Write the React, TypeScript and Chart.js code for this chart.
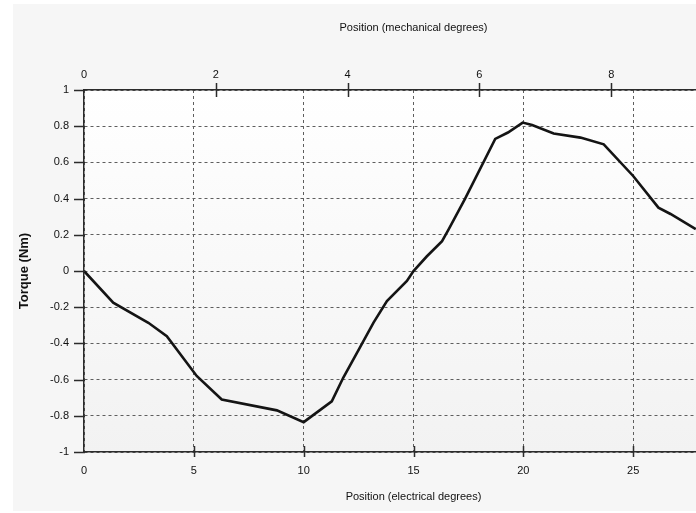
import React, { useEffect, useRef } from "react";
import { Chart, registerables } from "chart.js";

Chart.register(...registerables);

// Data
const electricalDegrees = [
  0, 1.33, 2.93, 3.77, 5.13, 6.27, 8.78, 10.0, 11.28, 11.8, 12.57, 13.18, 13.79,
  14.7, 15.0, 15.6, 16.3, 16.6, 17.35, 18.72, 19.3, 19.97, 20.4, 21.38, 22.6,
  23.66, 25.0, 26.15, 26.7, 27.85,
];
const torqueNm = [
  0, -0.175, -0.286, -0.36, -0.58, -0.71, -0.77, -0.835, -0.72, -0.59, -0.42,
  -0.285, -0.166, -0.055, 0, 0.08, 0.165, 0.23, 0.4, 0.73, 0.765, 0.82, 0.807,
  0.76, 0.737, 0.7, 0.525, 0.35, 0.315, 0.232,
];

const xTitle = "Position (electrical degrees)";
const x2Title = "Position (mechanical degrees)";
const yTitle = "Torque (Nm)";

const elecRange = [0, 30];
const mechRange = [0, 10];
const torqueRange = [-1, 1];

const FONT = "'Liberation Sans', Arial, Helvetica, sans-serif";
const AXIS_COLOR = "#2b2b2b";
const GRID_COLOR = "#5e5e5e";
const TEXT_COLOR = "#111111";

const fmt = (v: any) => String(Number(Number(v).toFixed(1)));

const backgroundPlugin = {
  id: "bgPanel",
  beforeDraw(chart: any) {
    const { ctx, chartArea, width, height } = chart;
    ctx.save();
    ctx.fillStyle = "#ffffff";
    ctx.fillRect(0, 0, width, height);
    ctx.fillStyle = "#f6f6f6";
    ctx.fillRect(13, 4, width - 13, height - 6);
    const g = ctx.createLinearGradient(0, chartArea.top, 0, chartArea.bottom);
    g.addColorStop(0, "#ffffff");
    g.addColorStop(1, "#f2f2f2");
    ctx.fillStyle = g;
    ctx.fillRect(
      chartArea.left,
      chartArea.top,
      chartArea.right - chartArea.left,
      chartArea.bottom - chartArea.top
    );
    ctx.restore();
  },
};

const crossTicksPlugin = {
  id: "crossTicks",
  afterDraw(chart: any) {
    const { ctx, chartArea, scales } = chart;
    ctx.save();
    ctx.strokeStyle = AXIS_COLOR;
    ctx.lineWidth = 1.5;
    ctx.beginPath();
    scales.x.ticks.forEach((t: any) => {
      if (t.value <= elecRange[0]) return;
      const px = Math.round(scales.x.getPixelForValue(t.value)) + 0.5;
      ctx.moveTo(px, chartArea.bottom - 6);
      ctx.lineTo(px, chartArea.bottom + 5);
    });
    scales.x2.ticks.forEach((t: any) => {
      if (t.value <= mechRange[0]) return;
      const px = Math.round(scales.x2.getPixelForValue(t.value)) + 0.5;
      ctx.moveTo(px, chartArea.top - 7);
      ctx.lineTo(px, chartArea.top + 7);
    });
    scales.y.ticks.forEach((t: any) => {
      const py = Math.round(scales.y.getPixelForValue(t.value)) + 0.5;
      ctx.moveTo(chartArea.left - 10, py);
      ctx.lineTo(chartArea.left + 1, py);
    });
    ctx.stroke();
    ctx.restore();
  },
};

export default function App() {
  const ref = useRef<HTMLCanvasElement>(null);

  useEffect(() => {
    if (!ref.current) return;
    const points = electricalDegrees.map((x, i) => ({ x, y: torqueNm[i] }));
    const chart = new Chart(ref.current, {
      type: "line",
      data: {
        datasets: [
          {
            label: yTitle,
            data: points,
            borderColor: "#141414",
            borderWidth: 2.6,
            pointRadius: 0,
            tension: 0,
            fill: false,
            xAxisID: "x",
            yAxisID: "y",
          },
        ],
      },
      options: {
        responsive: false,
        animation: false,
        devicePixelRatio: 1,
        layout: { padding: 0 },
        plugins: {
          legend: { display: false },
          tooltip: { enabled: false },
        },
        scales: {
          x: {
            type: "linear",
            position: "bottom",
            min: elecRange[0],
            max: elecRange[1],
            ticks: {
              stepSize: 5,
              color: TEXT_COLOR,
              font: { family: FONT, size: 11 },
              padding: 12,
              callback: fmt,
            },
            grid: {
              color: GRID_COLOR,
              lineWidth: 1,
              drawTicks: false,
            },
            border: { display: true, color: AXIS_COLOR, width: 1.5, dash: [3, 3] },
            title: {
              display: true,
              text: xTitle,
              color: TEXT_COLOR,
              font: { family: FONT, size: 11 },
              padding: { top: 0, bottom: 9.4 },
            },
            afterFit: (s: any) => {
              s.height = 61;
              s.paddingLeft = 0;
              s.paddingRight = 0;
            },
          },
          x2: {
            type: "linear",
            position: "top",
            min: mechRange[0],
            max: mechRange[1],
            ticks: {
              stepSize: 2,
              color: TEXT_COLOR,
              font: { family: FONT, size: 11 },
              padding: 8,
              callback: fmt,
            },
            grid: { display: false, drawTicks: false },
            border: { display: true, color: AXIS_COLOR, width: 1.5 },
            title: {
              display: true,
              text: x2Title,
              color: TEXT_COLOR,
              font: { family: FONT, size: 11 },
              padding: { top: 21.4, bottom: 0 },
            },
            afterFit: (s: any) => {
              s.height = 90;
              s.paddingLeft = 0;
              s.paddingRight = 0;
            },
          },
          y: {
            type: "linear",
            position: "left",
            min: torqueRange[0],
            max: torqueRange[1],
            ticks: {
              stepSize: 0.2,
              color: TEXT_COLOR,
              font: { family: FONT, size: 11 },
              padding: 15,
              callback: fmt,
            },
            grid: {
              color: GRID_COLOR,
              lineWidth: 1,
              drawTicks: false,
            },
            border: { display: true, color: AXIS_COLOR, width: 1.5, dash: [3, 3] },
            title: {
              display: true,
              text: yTitle,
              color: TEXT_COLOR,
              font: { family: FONT, size: 13, weight: "bold" },
              padding: { top: 17, bottom: 0 },
            },
            afterFit: (s: any) => {
              s.width = 84;
              s.paddingTop = 0;
              s.paddingBottom = 0;
            },
          },
        },
      },
      plugins: [backgroundPlugin, crossTicksPlugin],
    } as any);
    return () => chart.destroy();
  }, []);

  return (
    <div
      style={{
        position: "fixed",
        left: 0,
        top: 0,
        width: 696,
        height: 513,
        overflow: "hidden",
        background: "#ffffff",
      }}
    >
      <canvas
        ref={ref}
        width={743}
        height={513}
        style={{ display: "block", width: 743, height: 513 }}
      />
    </div>
  );
}
